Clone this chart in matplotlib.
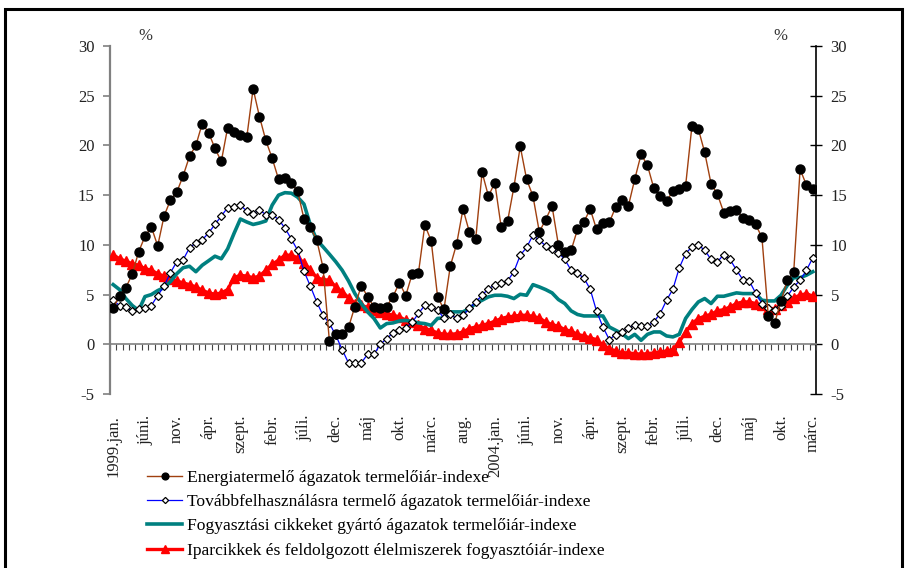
import numpy as np
import matplotlib.pyplot as plt
from matplotlib.patches import Rectangle

plt.rcParams['font.family'] = ['Liberation Serif', 'DejaVu Serif']
plt.rcParams['axes.unicode_minus'] = False

# Havi adatok, 1999. jan. - 2008. márc. (111 hónap)
energia = [3.6, 4.9, 5.7, 7.05, 9.3, 10.85, 11.8, 9.9, 12.9, 14.5,
           15.3, 16.95, 18.9, 20.0, 22.2, 21.3, 19.7, 18.4, 21.8, 21.4,
           21.0, 20.8, 25.7, 22.9, 20.5, 18.7, 16.6, 16.75, 16.2, 15.4,
           12.6, 11.75, 10.5, 7.7, 0.3, 1.0, 1.0, 1.7, 3.8, 5.9,
           4.8, 3.75, 3.6, 3.8, 4.8, 6.2, 4.9, 7.05, 7.2, 12.0,
           10.4, 4.8, 3.5, 7.85, 10.1, 13.6, 11.3, 10.6, 17.3, 14.9,
           16.25, 11.8, 12.35, 15.8, 19.9, 16.6, 14.9, 11.3, 12.55, 13.9,
           10.0, 9.3, 9.45, 11.55, 12.3, 13.6, 11.55, 12.15, 12.25, 13.8,
           14.5, 13.9, 16.6, 19.1, 18.0, 15.7, 14.9, 14.4, 15.4, 15.6,
           15.95, 22.0, 21.65, 19.3, 16.15, 15.1, 13.25, 13.4, 13.5, 12.7,
           12.45, 12.05, 10.75, 2.85, 2.15, 4.35, 6.45, 7.3, 17.6, 16.0,
           15.6]

tovabb = [4.5, 3.86, 3.7, 3.36, 3.5, 3.6, 3.9, 4.9, 5.85, 7.2,
          8.3, 8.5, 9.7, 10.2, 10.5, 11.2, 12.05, 12.9, 13.75, 13.8,
          14.0, 13.4, 13.15, 13.5, 13.05, 13.05, 12.55, 11.7, 10.6, 9.45,
          7.35, 5.85, 4.26, 2.9, 2.1, 0.9, -0.53, -1.88, -1.88, -1.88,
          -1.0, -1.0, 0.0, 0.57, 1.14, 1.47, 1.64, 2.2, 3.1, 3.93,
          3.76, 3.42, 2.65, 3.0, 2.6, 2.9, 3.6, 4.26, 4.93, 5.6,
          5.94, 6.17, 6.37, 7.3, 8.96, 9.74, 10.98, 10.47, 9.9, 9.57,
          9.23, 8.53, 7.45, 7.12, 6.68, 5.54, 3.32, 1.74, 0.47, 0.98,
          1.24, 1.64, 1.98, 1.81, 1.84, 2.25, 3.09, 4.43, 5.54, 7.68,
          9.13, 9.8, 9.97, 9.47, 8.53, 8.29, 9.03, 8.53, 7.45, 6.51,
          6.37, 5.17, 4.1, 3.6, 3.4, 3.9, 4.83, 5.77, 6.44, 7.45,
          8.7]

fogyasztasi = [6.0, 5.5, 4.6, 3.9, 3.4, 4.8, 5.0, 5.4, 5.7, 6.3,
               7.1, 7.7, 7.85, 7.3, 7.95, 8.4, 8.86, 8.6, 9.6, 11.15,
               12.6, 12.3, 12.05, 12.2, 12.4, 14.0, 15.0, 15.25, 15.2, 14.8,
               14.1, 12.0, 10.5, 9.8, 9.06, 8.3, 7.45, 6.37, 5.1, 4.1,
               3.26, 2.6, 1.64, 2.08, 2.15, 2.35, 2.4, 2.3, 2.15, 2.08,
               1.9, 2.6, 2.65, 3.26, 3.26, 3.26, 3.6, 4.1, 4.43, 4.77,
               4.93, 4.93, 4.83, 4.6, 5.03, 4.93, 6.0, 5.77, 5.5, 5.17,
               4.5, 4.1, 3.36, 3.0, 2.85, 2.85, 2.85, 2.85, 1.74, 1.41,
               1.07, 0.57, 1.0, 0.4, 1.0, 1.24, 1.24, 0.84, 0.74, 1.0,
               2.6, 3.5, 4.26, 4.6, 4.1, 4.83, 4.83, 5.0, 5.17, 5.1,
               5.1, 5.1, 4.43, 4.36, 4.36, 4.93, 5.94, 6.7, 6.7, 6.95,
               7.3]

iparcikk = [9.0, 8.6, 8.36, 8.1, 7.95, 7.6, 7.45, 7.1, 6.85, 6.6,
            6.37, 6.17, 6.0, 5.77, 5.44, 5.17, 5.03, 5.17, 5.5, 6.7,
            6.95, 6.85, 6.7, 6.85, 7.45, 8.05, 8.46, 8.96, 8.96, 8.7,
            8.2, 7.45, 6.7, 6.5, 6.45, 5.77, 5.27, 4.7, 4.1, 3.93,
            3.7, 3.42, 3.26, 3.09, 2.92, 2.75, 2.42, 2.25, 1.91, 1.58,
            1.41, 1.14, 1.0, 1.0, 1.07, 1.24, 1.58, 1.74, 1.91, 2.08,
            2.32, 2.59, 2.75, 2.82, 2.92, 2.92, 2.8, 2.64, 2.25, 1.98,
            1.81, 1.48, 1.31, 1.0, 0.84, 0.64, 0.47, -0.1, -0.43, -0.67,
            -0.84, -0.87, -0.94, -1.0, -0.94, -0.87, -0.77, -0.67, -0.54, 0.24,
            1.24, 2.08, 2.59, 2.82, 3.02, 3.36, 3.49, 3.76, 4.1, 4.26,
            4.26, 4.1, 3.93, 3.59, 3.59, 3.93, 4.26, 4.7, 4.93, 5.1,
            4.83]

honap_cimkek = ['1999.jan.', 'júni.', 'nov.', 'ápr.', 'szept.', 'febr.',
                'júli.', 'dec.', 'máj', 'okt.', 'márc.', 'aug.',
                '2004.jan.', 'júni.', 'nov.', 'ápr.', 'szept.', 'febr.',
                'júli.', 'dec.', 'máj', 'okt.', 'márc.']

sorozat_nevek = ['Energiatermelő ágazatok termelőiár-indexe',
                 'Továbbfelhasználásra termelő ágazatok termelőiár-indexe',
                 'Fogyasztási cikkeket gyártó ágazatok termelőiár-indexe',
                 'Iparcikkek és feldolgozott élelmiszerek fogyasztóiár-indexe']

x = np.arange(len(energia))

fig = plt.figure(figsize=(9.06, 5.68), dpi=100)
ax = fig.add_axes([110 / 906, 1 - 394 / 568, 706 / 906, 348 / 568])

# Sorozatok (a piros kerül alulra, a fekete pontok felülre)
l4, = ax.plot(x, iparcikk, color='#FF0000', lw=2.4, marker='^', ms=7,
              mec='#FF0000', mfc='#FF0000', zorder=3)
l3, = ax.plot(x, fogyasztasi, color='#008080', lw=2.6, zorder=4)
l2, = ax.plot(x, tovabb, color='#0000FF', lw=0.9, marker='D', ms=4.2,
              mfc='white', mec='black', mew=0.9, zorder=5)
l1, = ax.plot(x, energia, color='#A0400F', lw=1.0, marker='o', ms=6.5,
              mfc='black', mec='black', zorder=6)

ax.set_xlim(-0.5, len(x) - 0.5)
ax.set_ylim(-5, 30)
ax.set_yticks(np.arange(-5, 31, 5))

# Tengelyek
ax.spines['top'].set_visible(False)
ax.spines['left'].set_color('#808080')
ax.spines['left'].set_linewidth(1.6)
ax.spines['right'].set_visible(False)
ax.spines['bottom'].set_position(('data', 0))
ax.spines['bottom'].set_color('#808080')
ax.spines['bottom'].set_linewidth(1.2)
ax.tick_params(axis='y', direction='out', length=5, width=1.2, color='#808080',
               labelsize=12, labelcolor='#222222', pad=6)
ax.set_xticks(np.arange(-0.5, len(x), 1.0))
ax.tick_params(axis='x', direction='out', length=4, width=0.8, color='#444444',
               labelbottom=False)

# Jobb oldali tengely
ax_r = ax.secondary_yaxis('right')
ax_r.set_yticks(np.arange(-5, 31, 5))
ax_r.spines['right'].set_color('black')
ax_r.spines['right'].set_linewidth(1.2)
ax_r.tick_params(axis='y', direction='inout', length=9, width=1.0,
                 labelsize=12, labelcolor='#222222', pad=6)

# Hónap feliratok alul
ax_b = ax.secondary_xaxis('bottom')
ax_b.set_xticks(x[::5])
ax_b.set_xticklabels(honap_cimkek, rotation=90, fontsize=12, color='#222222')
ax_b.tick_params(axis='x', length=0, pad=15)
ax_b.spines['bottom'].set_visible(False)

ax.text(0.05, 1.03, '%', transform=ax.transAxes, fontsize=12, color='#333333',
        ha='center', va='center')
ax.text(0.95, 1.03, '%', transform=ax.transAxes, fontsize=12, color='#333333',
        ha='center', va='center')

fig.legend([l1, l2, l3, l4], sorozat_nevek, loc='upper left',
           bbox_to_anchor=(140 / 906, 1 - 463 / 568), frameon=False,
           fontsize=12.6, handlelength=2.0, handletextpad=0.3, labelspacing=0.45,
           borderaxespad=0, markerscale=0.75)

# Keret
fig.patches.append(Rectangle((5 / 906, -0.1), 897 / 906, 1.1 - 9 / 568,
                             transform=fig.transFigure, fill=False,
                             lw=2.2, ec='black'))

fig.savefig('out.png', dpi=100)
